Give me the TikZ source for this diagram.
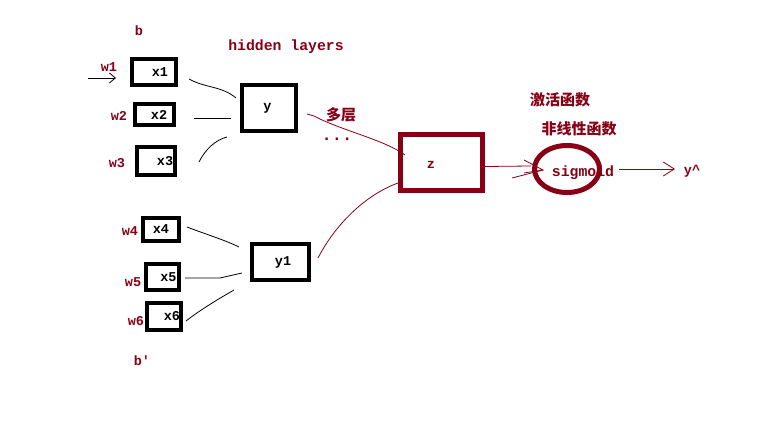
\documentclass[tikz,border=0pt]{standalone}
\usepackage{fontspec}
\setmonofont{Liberation Mono}
\newfontfamily\cjk{Noto Sans CJK SC}
\usetikzlibrary{arrows.meta,shapes.geometric}
\definecolor{dred}{RGB}{136,0,21}
\begin{document}
\begin{tikzpicture}[x=1pt,y=-1pt,
 box/.style={draw=black,line width=4pt,fill=white,inner sep=0pt},
 rbox/.style={draw=dred,line width=5pt,fill=white,inner sep=0pt},
 lbl/.style={font=\ttfamily\bfseries\fontsize{13.5}{14}\selectfont,text=black},
 rlbl/.style={font=\ttfamily\bfseries\fontsize{13.5}{14}\selectfont,text=dred},
 blbl/.style={font=\ttfamily\bfseries\fontsize{14.8}{15}\selectfont,text=dred},
 cn/.style={font=\cjk\bfseries\fontsize{15}{16}\selectfont,text=dred},
 wire/.style={draw=black,line width=0.8pt},
 rwire/.style={draw=dred,line width=0.8pt},
 barb/.style={-{Straight Barb[length=6pt,width=10pt,line width=0.8pt]}}]
\useasboundingbox[fill=white] (0,0) rectangle (761,422);

% input boxes
\node[box,minimum width=44pt,minimum height=26pt,label={[lbl,xshift=6pt]center:x1}] (x1) at (154,72) {};
\node[box,minimum width=39pt,minimum height=21pt,label={[lbl,xshift=4.5pt]center:x2}] (x2) at (154.5,114.5) {};
\node[box,minimum width=38pt,minimum height=28pt,label={[lbl,xshift=9pt]center:x3}] (x3) at (156,161) {};
\node[box,minimum width=36pt,minimum height=23pt,label={[lbl]center:x4}] (x4) at (161,229.5) {};
\node[box,minimum width=33pt,minimum height=26pt,label={[lbl,xshift=6pt]center:x5}] (x5) at (162.5,277) {};
\node[box,minimum width=34pt,minimum height=27pt,label={[lbl,xshift=8pt]center:x6}] (x6) at (164,316.5) {};

% hidden boxes
\node[box,minimum width=54pt,minimum height=46pt,label={[lbl,xshift=-1.5pt]center:y}] (y) at (269,108) {};
\node[box,minimum width=57pt,minimum height=36pt,label={[lbl,xshift=2.5pt]center:y1}] (y1) at (280.5,262) {};

% output box and activation
\node[rbox,minimum width=82pt,minimum height=56pt,label={[rlbl,xshift=-10.5pt,yshift=-2pt]center:z}] (z) at (441.5,162.5) {};
\node[ellipse,draw=dred,line width=5pt,minimum width=65pt,minimum height=47pt,inner sep=0pt,label={[blbl,xshift=16pt,yshift=-4pt]center:sigmoid}] (sig) at (567,169) {};

% labels
\node[rlbl] (lb) at (139,31) {b};
\node[blbl] (lhl) at (286,47) {hidden layers};
\node[rlbl] (lw1) at (109,67) {w1};
\node[rlbl] (lw2) at (119,116) {w2};
\node[rlbl] (lw3) at (117,163) {w3};
\node[rlbl] (lw4) at (130,231) {w4};
\node[rlbl] (lw5) at (133,282) {w5};
\node[rlbl] (lw6) at (136,321) {w6};
\node[rlbl] (lbp) at (142,361) {b'};
\node[cn] (lmulti) at (341,115) {多层};
\node[font=\ttfamily\bfseries\fontsize{17}{17}\selectfont,text=dred] (ldots) at (337,139) {...};
\node[cn] (lact) at (560,100) {激活函数};
\node[cn] (lnon) at (579,129) {非线性函数};
\node[lbl,text=dred] (lyhat) at (692,171) {y\textasciicircum};

% connector end points
\coordinate (in0) at (88,78);
\coordinate (in1) at (116,78);
\coordinate (a1) at (189,79);  \coordinate (b1) at (236,98);
\coordinate (a2) at (194,118); \coordinate (b2) at (231,118);
\coordinate (a3) at (199,162); \coordinate (b3) at (227,137);
\coordinate (a4) at (187,227); \coordinate (b4) at (239,247);
\coordinate (a5) at (185,278); \coordinate (b5) at (242,273);
\coordinate (a6) at (186,321); \coordinate (b6) at (234,290);
\coordinate (c1) at (307,114); \coordinate (d1) at (405,155);
\coordinate (c2) at (318,258); \coordinate (d2) at (398,183);
\coordinate (e0) at (531,166); \coordinate (e1) at (543,170); \coordinate (e2) at (512,178);
\coordinate (g1) at (524,160); \coordinate (g2) at (524,173);
\coordinate (f0) at (619,169); \coordinate (f1) at (675,169);

% black wires
\draw[wire,barb] (in0) -- (in1);
\draw[wire] (a1) .. controls (205,88) and (222,86) .. (b1);
\draw[wire] (a2) -- (b2);
\draw[wire] (a3) .. controls (205,150) and (215,140) .. (b3);
\draw[wire] (a4) .. controls (205,234) and (225,240) .. (b4);
\draw[wire] (a5) -- (220,278) -- (b5);
\draw[wire] (a6) .. controls (200,310) and (220,298) .. (b6);

% red wires
\draw[rwire] (c1) -- (314,116) .. controls (340,130) and (385,140) .. (d1);
\draw[rwire] (c2) .. controls (335,225) and (365,195) .. (d2);
\draw[rwire] ([yshift=-4pt]z.east) -- (e0);
\draw[rwire] (g1) -- (e1) -- (g2);
\draw[rwire] (e2) -- (e1);
\draw[rwire,-{Straight Barb[length=11pt,width=14pt,line width=0.8pt]}] (f0) -- (f1);
\end{tikzpicture}
\end{document}
